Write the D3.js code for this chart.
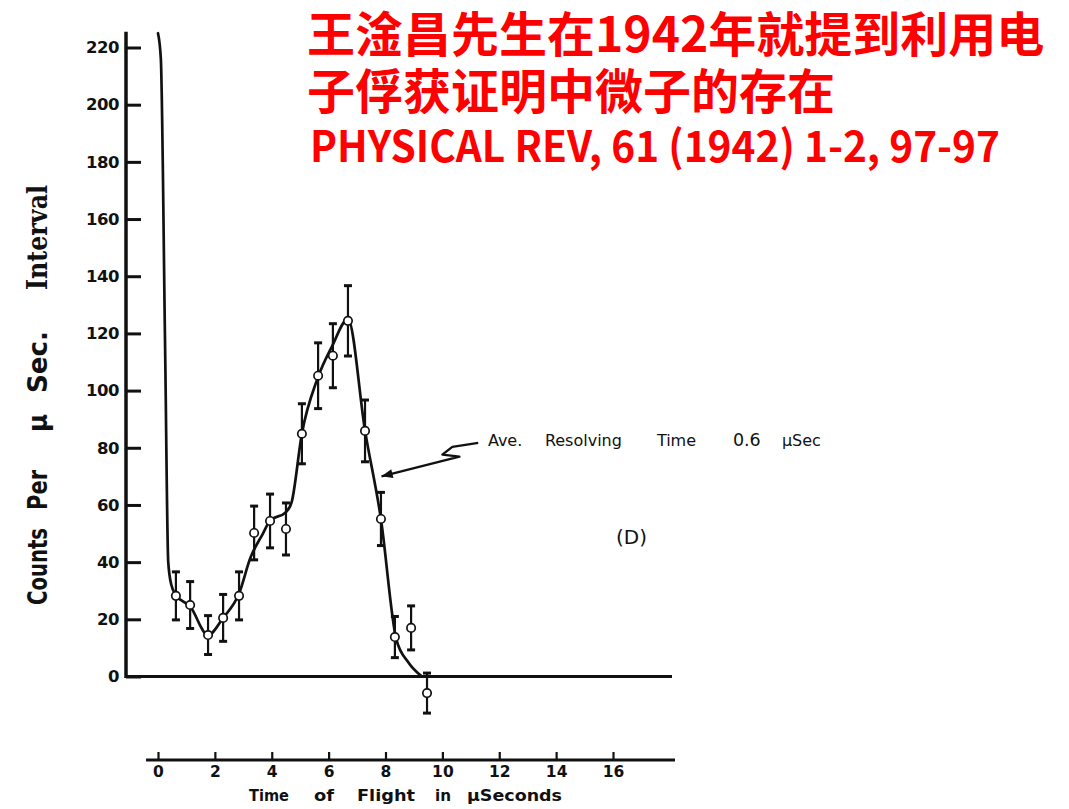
<!DOCTYPE html>
<html>
<head>
<meta charset="utf-8">
<script src="https://cdn.jsdelivr.net/npm/d3@7/dist/d3.min.js"></script>
<style>
  html, body { margin: 0; padding: 0; background: #fff; }
  #wrap { position: relative; width: 1069px; height: 809px; overflow: hidden; }
  svg { display: block; position: absolute; left: 0; top: 0; }
  #heading {
    position: absolute; left: 307px; top: 3px; color: #ff0000;
    font-family: 'Noto Sans CJK SC', sans-serif; font-weight: 700; white-space: nowrap;
  }
  #heading .cjk { font-size: 48px; line-height: 57px; height: 57px; }
  #heading .cite { font-size: 43px; line-height: 53px; height: 53px; margin-left: 3px;
                   display: inline-block; transform-origin: 0 50%; }
</style>
</head>
<body>
<div id="wrap"></div>
<script>
// Time-of-flight spectrum, counts per microsecond interval (Phys. Rev. 61, 1942)
const times  = [0.63, 1.13, 1.76, 2.29, 2.85, 3.38, 3.94, 4.50, 5.06, 5.63, 6.15, 6.68, 7.28, 7.84, 8.33, 8.90, 9.46];
const counts = [28.2, 25.0, 14.5, 20.5, 28.2, 50.2, 54.4, 51.6, 84.9, 105.2, 112.2, 124.4, 85.9, 55.1, 13.8, 17.0, -5.8];
const errors = [8.4, 8.2, 6.8, 8.2, 8.4, 9.4, 9.4, 9.1, 10.5, 11.5, 11.2, 12.3, 10.8, 9.3, 7.2, 7.7, 7.0];

// Hand-drawn smooth curve through the measurements
const fitTimes  = [0, 0.1, 0.25, 0.36, 0.47, 0.63, 1.13, 1.76, 2.29, 2.85, 3.25, 3.69, 3.94, 4.5, 4.7, 5.06, 5.6, 6.12, 6.68, 7.28, 7.84, 8.38, 8.8, 9.28];
const fitCounts = [225, 216, 115, 40, 32, 28.5, 24.5, 14.5, 20.5, 29, 41.5, 50, 54.5, 57.5, 61, 85, 104, 115.5, 125, 86, 55, 13, 5, 0];

const yTicks = [0, 20, 40, 60, 80, 100, 120, 140, 160, 180, 200, 220];
const xTicks = [0, 2, 4, 6, 8, 10, 12, 14, 16];

const titleLines = ["王淦昌先生在1942年就提到利用电", "子俘获证明中微子的存在"];
const citation = "PHYSICAL REV, 61 (1942) 1-2, 97-97";
const yTitleWords = ["Counts", "Per", "μ", "Sec.", "Interval"];
const xTitleWords = ["Time", "of", "Flight", "in", "μSeconds"];
const noteWords = ["Ave.", "Resolving", "Time", "0.6", "μSec"];
const panelLabel = "(D)";

const W = 1069, H = 809;
const wrap = d3.select("#wrap");
const svg = wrap.append("svg").attr("width", W).attr("height", H);
svg.append("rect").attr("width", W).attr("height", H).attr("fill", "#fff");

const x = d3.scaleLinear().domain([0, 16]).range([158, 613]);
const y = d3.scaleLinear().domain([0, 220]).range([676.5, 47.5]);

const ink = "#111";
const numFont = "'DejaVu Sans', sans-serif";

// ---- red heading (HTML block over the chart) ----
const heading = wrap.append("div").attr("id", "heading");
heading.selectAll("div.cjk").data(titleLines).join("div").attr("class", "cjk").text(d => d);
const cite = heading.append("div").append("span").attr("class", "cite").text(citation);
{
  const w = cite.node().getBoundingClientRect().width;
  cite.style("transform", `scaleX(${690 / w})`);
}

// ---- left axis ----
const yAxisX = 126;
const yAxis = d3.axisLeft(y).tickValues(yTicks).tickSizeInner(-15).tickSizeOuter(0).tickPadding(7);
const gy = svg.append("g").attr("transform", `translate(${yAxisX},0)`).call(yAxis);
gy.select(".domain").remove();
gy.selectAll(".tick line").attr("stroke", ink).attr("stroke-width", 3);
gy.selectAll(".tick text").attr("fill", ink)
  .style("font-family", numFont).style("font-size", "16.5px").style("font-weight", 700)
  .attr("letter-spacing", "-0.5");
svg.append("line").attr("x1", yAxisX).attr("x2", yAxisX)
  .attr("y1", y(225.5)).attr("y2", y(0) + 1.5)
  .attr("stroke", ink).attr("stroke-width", 3.5);

// zero line / baseline of the plot
svg.append("line").attr("x1", yAxisX).attr("x2", 672)
  .attr("y1", y(0)).attr("y2", y(0))
  .attr("stroke", ink).attr("stroke-width", 3.2);

// y title, rotated words reading bottom-to-top
const yTitleStart = [605, 510, 432, 393, 290];
const yTitleLen = [77, 40, 18, 62, 105];
yTitleWords.forEach((w, i) => {
  svg.append("text")
    .attr("transform", `translate(47,${yTitleStart[i]}) rotate(-90)`)
    .attr("fill", ink)
    .style("font-family", i === 4 ? "'DejaVu Serif', serif" : numFont)
    .style("font-weight", 700).style("font-size", "27px").style("font-stretch", "condensed")
    .attr("textLength", yTitleLen[i]).attr("lengthAdjust", "spacingAndGlyphs")
    .text(w);
});

// ---- separate time axis underneath ----
const axisY = 760;
const xAxis = d3.axisBottom(x).tickValues(xTicks).tickSizeInner(-8).tickSizeOuter(0).tickPadding(6);
const gx = svg.append("g").attr("transform", `translate(0,${axisY})`).call(xAxis);
gx.select(".domain").remove();
gx.selectAll(".tick line").attr("stroke", ink).attr("stroke-width", 2.2);
gx.selectAll(".tick text").attr("fill", ink)
  .style("font-family", numFont).style("font-size", "15.5px").style("font-weight", 700);
svg.append("line").attr("x1", x(-0.42)).attr("x2", x(18.18))
  .attr("y1", axisY).attr("y2", axisY)
  .attr("stroke", ink).attr("stroke-width", 3);

const xTitleStart = [249, 314, 357, 435, 467];
const xTitleLen = [40, 20, 58, 16, 95];
xTitleWords.forEach((w, i) => {
  svg.append("text").attr("x", xTitleStart[i]).attr("y", 801)
    .attr("fill", ink)
    .style("font-family", numFont).style("font-weight", 700).style("font-size", "16px")
    .attr("textLength", xTitleLen[i]).attr("lengthAdjust", "spacingAndGlyphs")
    .text(w);
});

// ---- fitted curve ----
const fitData = fitTimes.map((t, i) => ({ t, c: fitCounts[i] }));
const line = d3.line().x(d => x(d.t)).y(d => y(d.c)).curve(d3.curveMonotoneX);
svg.append("path").datum(fitData).attr("d", line)
  .attr("fill", "none").attr("stroke", ink).attr("stroke-width", 2.7)
  .attr("stroke-linejoin", "round").attr("stroke-linecap", "round");

// ---- measurements with error bars ----
const pts = times.map((t, i) => ({ t, c: counts[i], e: errors[i] }));
const g = svg.append("g");
g.selectAll("line.bar").data(pts).join("line").attr("class", "bar")
  .attr("x1", d => x(d.t)).attr("x2", d => x(d.t))
  .attr("y1", d => y(d.c + d.e)).attr("y2", d => y(d.c - d.e))
  .attr("stroke", ink).attr("stroke-width", 2.2);
["top", "bot"].forEach(k => {
  g.selectAll("line.cap-" + k).data(pts).join("line").attr("class", "cap-" + k)
    .attr("x1", d => x(d.t) - 4).attr("x2", d => x(d.t) + 4)
    .attr("y1", d => y(k === "top" ? d.c + d.e : d.c - d.e))
    .attr("y2", d => y(k === "top" ? d.c + d.e : d.c - d.e))
    .attr("stroke", ink).attr("stroke-width", 3);
});
g.selectAll("circle").data(pts).join("circle")
  .attr("cx", d => x(d.t)).attr("cy", d => y(d.c)).attr("r", 4.2)
  .attr("fill", "#fff").attr("stroke", ink).attr("stroke-width", 1.7);

// ---- resolving-time note with zig-zag arrow ----
const arrowPts = [[11.26, 81.7], [10.35, 80.3], [10.0, 77.6], [10.6, 76.9], [7.86, 70.0]];
svg.append("path")
  .attr("d", d3.line()(arrowPts.map(p => [x(p[0]), y(p[1])])))
  .attr("fill", "none").attr("stroke", ink).attr("stroke-width", 2.4)
  .attr("stroke-linejoin", "round");
(() => {
  const [tx, ty] = [x(arrowPts[4][0]), y(arrowPts[4][1])];
  const [fx, fy] = [x(arrowPts[3][0]), y(arrowPts[3][1])];
  const a = Math.atan2(ty - fy, tx - fx);
  const L = 12, s = 0.38;
  const p1 = [tx - L * Math.cos(a - s), ty - L * Math.sin(a - s)];
  const p2 = [tx - L * Math.cos(a + s), ty - L * Math.sin(a + s)];
  svg.append("path").attr("d", `M${tx},${ty}L${p1[0]},${p1[1]}L${p2[0]},${p2[1]}Z`).attr("fill", ink);
})();

const noteOffsets = [0, 57, 169, 245, 294];
noteWords.forEach((w, i) => {
  svg.append("text").attr("x", x(11.6) + noteOffsets[i]).attr("y", 446)
    .attr("fill", ink)
    .style("font-family", numFont).style("font-size", i === 3 ? "17.5px" : "16px")
    .text(w);
});

svg.append("text").attr("x", x(16.65)).attr("y", 544).attr("text-anchor", "middle")
  .attr("fill", ink)
  .style("font-family", numFont).style("font-size", "20px")
  .text(panelLabel);
</script>
</body>
</html>
